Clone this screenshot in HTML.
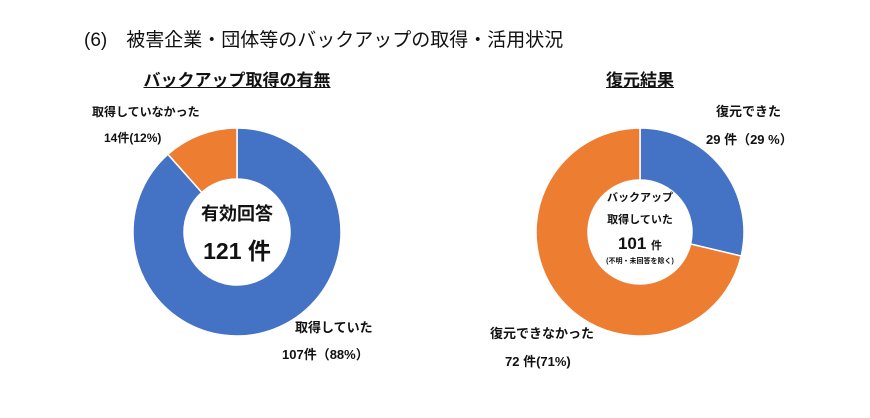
<!DOCTYPE html>
<html><head><meta charset="utf-8">
<style>
body{margin:0;background:#fff;font-family:"Liberation Sans","Noto Sans CJK JP",sans-serif;color:#111;}
#wrap{position:relative;width:870px;height:418px;overflow:hidden;}
.t{position:absolute;white-space:nowrap;line-height:1;}
</style></head><body>
<div id="wrap">
<div class="t" style="left:84px;top:31px;font-size:19px;">(6)　被害企業・団体等のバックアップの取得・活用状況</div>
<div class="t" style="left:127px;top:72px;width:220px;text-align:center;font-size:17px;font-weight:bold;"><span style="text-decoration:underline;">バックアップ取得の有無</span></div>
<div class="t" style="left:560px;top:72px;width:160px;text-align:center;font-size:17px;font-weight:bold;"><span style="text-decoration:underline;">復元結果</span></div>

<svg id="chart" width="870" height="418" style="position:absolute;left:0;top:0;"></svg>

<div class="t" style="left:92px;top:106px;font-size:12px;font-weight:bold;">取得していなかった</div>
<div class="t" style="left:104px;top:132px;font-size:12px;font-weight:bold;">14件(12%)</div>
<div class="t" style="left:295px;top:321px;font-size:13px;font-weight:bold;">取得していた</div>
<div class="t" style="left:282px;top:348px;font-size:13px;font-weight:bold;">107件（88%）</div>
<div class="t" style="left:187px;top:205px;width:100px;text-align:center;font-size:18px;font-weight:bold;">有効回答</div>
<div class="t" style="left:187px;top:240px;width:100px;text-align:center;font-size:23px;font-weight:bold;">121 件</div>

<div class="t" style="left:716px;top:105px;font-size:13px;font-weight:bold;">復元できた</div>
<div class="t" style="left:706px;top:133px;font-size:13px;font-weight:bold;">29 件（29 %）</div>
<div class="t" style="left:490px;top:327px;font-size:13px;font-weight:bold;">復元できなかった</div>
<div class="t" style="left:505px;top:355px;font-size:13px;font-weight:bold;">72 件(71%)</div>
<div class="t" style="left:590px;top:193px;width:100px;text-align:center;font-size:11px;font-weight:bold;">バックアップ</div>
<div class="t" style="left:590px;top:215px;width:100px;text-align:center;font-size:11px;font-weight:bold;">取得していた</div>
<div class="t" style="left:590px;top:235px;width:100px;text-align:center;font-size:17px;font-weight:bold;">101 <span style="font-size:11px;">件</span></div>
<div class="t" style="left:580px;top:258px;width:120px;text-align:center;font-size:7px;font-weight:bold;">(不明・未回答を除く)</div>
</div>
<script>
var leftCategories = ["取得していた", "取得していなかった"];
var leftValues = [107, 14];
var rightCategories = ["復元できた", "復元できなかった"];
var rightValues = [29, 72];
var colors = ["#4472c4", "#ed7d31"];

var svg = document.getElementById('chart');
var NS = "http://www.w3.org/2000/svg";
function pt(cx, cy, r, a){ return [cx + r*Math.sin(a), cy - r*Math.cos(a)]; }
function donut(cx, cy, ro, ri, values, cats, prefix){
  var total = values.reduce(function(s,v){return s+v;},0);
  var start = 0;
  values.forEach(function(v,i){
    var end = start + v/total*2*Math.PI;
    var large = (end-start) > Math.PI ? 1 : 0;
    var p1=pt(cx,cy,ro,start), p2=pt(cx,cy,ro,end), p3=pt(cx,cy,ri,end), p4=pt(cx,cy,ri,start);
    var d = "M"+p1+" A"+ro+","+ro+" 0 "+large+" 1 "+p2+" L"+p3+" A"+ri+","+ri+" 0 "+large+" 0 "+p4+" Z";
    var path = document.createElementNS(NS,"path");
    path.setAttribute("d", d);
    path.setAttribute("fill", colors[i]);
    path.setAttribute("stroke", "#fff");
    path.setAttribute("stroke-width", "1.5");
    
    
    svg.appendChild(path);
    start = end;
  });
}
donut(237, 232, 104, 53, leftValues, leftCategories, 'left');
donut(640, 232, 104, 52, rightValues, rightCategories, 'right');
</script>
</body></html>
